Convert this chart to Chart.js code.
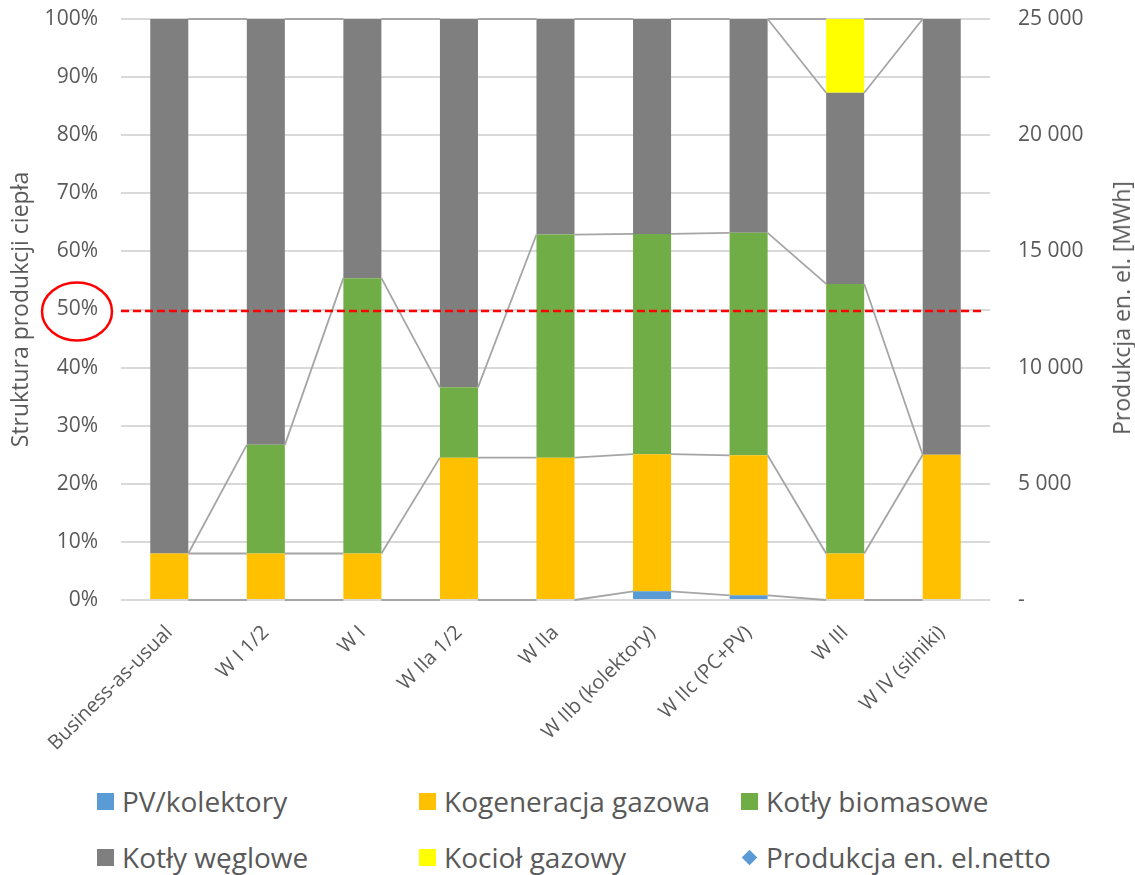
<!DOCTYPE html>
<html lang="pl">
<head>
<meta charset="utf-8">
<title>Struktura produkcji ciepła</title>
<script src="https://cdn.jsdelivr.net/npm/chart.js@4/dist/chart.umd.min.js"></script>
<style>
    html, body { margin: 0; padding: 0; background: #fff; }
    #wrap { position: relative; width: 1135px; height: 875px; }
    #wykres { position: absolute; left: 0; top: 0; }
    #tytulPrawy {
        position: absolute; left: 1121px; top: 308px;
        transform: translate(-50%, -50%) rotate(-90deg);
        font: 23px 'Open Sans', sans-serif; color: #595959; white-space: nowrap;
    }
    #legenda {
        position: absolute; left: 97px; top: 773px;
        display: grid; grid-template-columns: repeat(3, 322px); grid-auto-rows: 56px;
        font: 28px 'Open Sans', sans-serif; color: #595959;
    }
    .poz { display: flex; align-items: center; gap: 8px; line-height: 28px; white-space: nowrap; }
    .kw { width: 17px; height: 17px; flex: none; }
    .romb { width: 11px; height: 11px; margin: 0 3px; transform: rotate(45deg); flex: none; }
</style>
</head>
<body>
<div id="wrap">
    <canvas id="wykres" width="1135" height="770"></canvas>
    <div id="tytulPrawy">Produkcja en. el. [MWh]</div>
    <div id="legenda"></div>
</div>
<script>
// --- Dane (udział w produkcji ciepła, %) ---
const kategorie = ['Business-as-usual', 'W I 1/2', 'W I', 'W IIa 1/2', 'W IIa',
    'W IIb (kolektory)', 'W IIc (PC+PV)', 'W III', 'W IV (silniki)'];

const pvKolektory   = [0,    0,    0,    0,    0,    1.5,  0.8,  0,    0];
const kogeneracja   = [8.0,  8.0,  8.0,  24.5, 24.5, 23.6, 24.1, 8.0,  25.0];
const kotlyBiomasa  = [0,    18.7, 47.4, 12.1, 38.4, 37.9, 38.3, 46.4, 0];
const kotlyWegiel   = [92.0, 73.3, 44.6, 63.4, 37.1, 37.0, 36.8, 32.9, 75.0];
const kociolGazowy  = [0,    0,    0,    0,    0,    0,    0,    12.7, 0];
// brak widocznych punktów na wykresie
const produkcjaEl   = [null, null, null, null, null, null, null, null, null];

const procentTicks = [0, 10, 20, 30, 40, 50, 60, 70, 80, 90, 100];
const mwhTicks = [0, 5000, 10000, 15000, 20000, 25000];
const progProcent = 50;

Chart.defaults.font.family = "'Open Sans', sans-serif";
Chart.defaults.color = '#595959';

// linie serii (jak w Excelu) łączące szczyty segmentów sąsiednich słupków
const linieSerii = {
    id: 'linieSerii',
    afterDatasetsDraw(chart) {
        const ctx = chart.ctx;
        ctx.save();
        ctx.strokeStyle = '#A5A5A5';
        ctx.lineWidth = 1.8;
        chart.data.datasets.forEach((ds, d) => {
            const meta = chart.getDatasetMeta(d);
            if (meta.type !== 'bar') return;
            for (let i = 0; i < meta.data.length - 1; i++) {
                const a = meta.data[i], b = meta.data[i + 1];
                ctx.beginPath();
                ctx.moveTo(a.x + a.width / 2, a.y);
                ctx.lineTo(b.x - b.width / 2, b.y);
                ctx.stroke();
            }
        });
        ctx.restore();
    }
};

// czerwona linia 50% i elipsa wokół etykiety
const prog = {
    id: 'prog',
    afterDraw(chart) {
        const ctx = chart.ctx;
        const area = chart.chartArea;
        const y = chart.scales.y.getPixelForValue(progProcent) + 1.5;
        ctx.save();
        ctx.strokeStyle = '#FF0000';
        ctx.lineWidth = 2.5;
        ctx.setLineDash([8, 4]);
        ctx.beginPath();
        ctx.moveTo(area.left, y);
        ctx.lineTo(area.right - 9, y);
        ctx.stroke();
        ctx.setLineDash([]);
        ctx.lineWidth = 2.5;
        ctx.beginPath();
        ctx.ellipse(area.left - 44, y + 0.5, 35, 29, 0, 0, Math.PI * 2);
        ctx.stroke();
        ctx.restore();
    }
};

function seriaSlupkowa(nazwa, dane, kolor) {
    return {
        type: 'bar', label: nazwa, data: dane, backgroundColor: kolor,
        borderWidth: 0, yAxisID: 'y', stack: 's',
        categoryPercentage: 1, barPercentage: 0.394
    };
}

// osie pionowe: stała szerokość, bez dodatkowego odstępu u góry
function stalaSzerokosc(w) {
    return s => { s.width = w; s.paddingTop = 0; s.paddingBottom = 0; };
}

const wykres = new Chart(document.getElementById('wykres'), {
    data: {
        labels: kategorie,
        datasets: [
            seriaSlupkowa('PV/kolektory', pvKolektory, '#5B9BD5'),
            seriaSlupkowa('Kogeneracja gazowa', kogeneracja, '#FFC000'),
            seriaSlupkowa('Kotły biomasowe', kotlyBiomasa, '#70AD47'),
            seriaSlupkowa('Kotły węglowe', kotlyWegiel, '#7F7F7F'),
            seriaSlupkowa('Kocioł gazowy', kociolGazowy, '#FFFF00'),
            {
                type: 'line', label: 'Produkcja en. el.netto', data: produkcjaEl,
                yAxisID: 'y2', showLine: false, pointStyle: 'rectRot',
                backgroundColor: '#5B9BD5', borderColor: '#5B9BD5', pointRadius: 6
            }
        ]
    },
    options: {
        responsive: false,
        animation: false,
        layout: { padding: { top: 19, left: 0, right: 0, bottom: 0 } },
        plugins: { legend: { display: false }, tooltip: { enabled: false } },
        scales: {
            x: {
                stacked: true,
                grid: { display: false },
                border: { display: false },
                ticks: { font: { size: 20 }, minRotation: 45, maxRotation: 45, padding: 13 },
                afterFit(s) { s.height = 170; }
            },
            y: {
                position: 'left', stacked: true, min: 0, max: 100,
                afterBuildTicks(s) { s.ticks = procentTicks.map(v => ({ value: v })); },
                ticks: { font: { size: 21 }, padding: 23, callback: v => v + '%' },
                grid: { color: '#D9D9D9', lineWidth: 2, drawTicks: false, tickLength: 0 },
                border: { display: false },
                title: { display: true, text: 'Struktura produkcji ciepła', font: { size: 23 },
                    color: '#595959', padding: { top: 8, bottom: 0 } },
                afterFit: stalaSzerokosc(121)
            },
            y2: {
                position: 'right', min: 0, max: 25000,
                afterBuildTicks(s) { s.ticks = mwhTicks.map(v => ({ value: v })); },
                ticks: {
                    font: { size: 21 }, padding: 28,
                    callback: v => v === 0 ? '-' : String(v).replace(/\B(?=(\d{3})+(?!\d))/g, ' ')
                },
                grid: { display: false, drawTicks: false, tickLength: 0 },
                border: { display: false },
                afterFit: stalaSzerokosc(145)
            }
        }
    },
    plugins: [linieSerii, prog]
});

// legenda HTML w układzie 3 kolumn
const legenda = document.getElementById('legenda');
wykres.data.datasets.forEach(ds => {
    const poz = document.createElement('div');
    poz.className = 'poz';
    const znak = document.createElement('span');
    znak.className = ds.type === 'line' ? 'romb' : 'kw';
    znak.style.background = ds.backgroundColor;
    const tekst = document.createElement('span');
    tekst.textContent = ds.label;
    poz.appendChild(znak);
    poz.appendChild(tekst);
    legenda.appendChild(poz);
});
</script>
</body>
</html>
